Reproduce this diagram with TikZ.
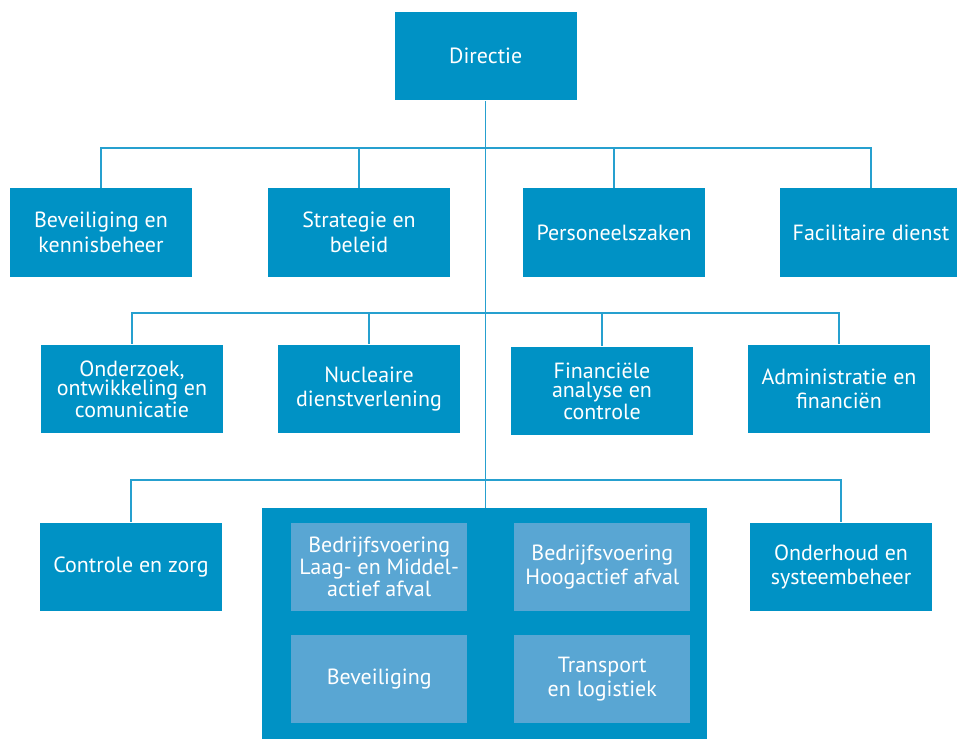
\documentclass[tikz,border=0pt]{standalone}
\usepackage{fontspec}
\setmainfont{PT Sans}
\definecolor{orgblue}{RGB}{0,146,197}
\definecolor{orglight}{RGB}{89,166,211}
\definecolor{orgline}{RGB}{38,160,207}
\begin{document}
\begin{tikzpicture}[x=0.02cm, y=-0.02cm,
  unit/.style={fill=orgblue, text=white, minimum width=3.64cm, minimum height=1.78cm,
    inner sep=0pt, align=center, font=\fontsize{12.5}{14}\selectfont},
  tight/.style={font=\fontsize{12.5}{11}\selectfont},
  sub/.style={unit, fill=orglight, minimum width=3.52cm, minimum height=1.76cm},
  link/.style={draw=orgline, line width=0.8pt}]
\useasboundingbox (0,0) rectangle (957,739);

\node[unit] (dir) at (485.7, 56) {Directie};

\node[unit] (bev) at (101, 232.5) {Beveiliging en\\kennisbeheer};
\node[unit] (str) at (359, 232.5) {Strategie en\\beleid};
\node[unit] (pers) at (614, 232.5) {Personeelszaken};
\node[unit] (fac) at (871, 232.5) {Facilitaire dienst};

\node[unit, tight] (ond) at (132, 389) {Onderzoek,\\ontwikkeling en\\comunicatie};
\node[unit] (nuc) at (369, 389) {Nucleaire\\dienstverlening};
\node[unit, tight] (fin) at (602, 391) {Financiële\\analyse en\\controle};
\node[unit] (adm) at (839, 389) {Administratie en\\financiën};

\node[unit] (ctrl) at (131, 567) {Controle en zorg};
\node[fill=orgblue, minimum width=8.9cm, minimum height=4.62cm, inner sep=0pt] (cont) at (484.5, 623.5) {};
\node[unit] (onh) at (841, 567) {Onderhoud en\\systeembeheer};

\node[sub, tight] (laag) at (379.2, 567.2) {Bedrijfsvoering\\Laag- en Middel-\\actief afval};
\node[sub] (hoog) at (602.3, 567.2) {Bedrijfsvoering\\Hoogactief afval};
\node[sub] (beve) at (379.2, 679) {Beveiliging};
\node[sub] (trans) at (602.3, 679) {Transport\\en logistiek};

\coordinate (bus1) at (485.7, 148);
\coordinate (bus2) at (485.7, 313);
\coordinate (bus3) at (485.7, 480);

\draw[link] (dir.south) -- (dir.south |- cont.north);

\draw[link] (bus1) -| (bev.north);
\draw[link] (bus1) -| (str.north);
\draw[link] (bus1) -| (pers.north);
\draw[link] (bus1) -| (fac.north);

\draw[link] (bus2) -| (ond.north);
\draw[link] (bus2) -| (nuc.north);
\draw[link] (bus2) -| (fin.north);
\draw[link] (bus2) -| (adm.north);

\draw[link] (bus3) -| (ctrl.north);
\draw[link] (bus3) -| (onh.north);
\end{tikzpicture}
\end{document}
